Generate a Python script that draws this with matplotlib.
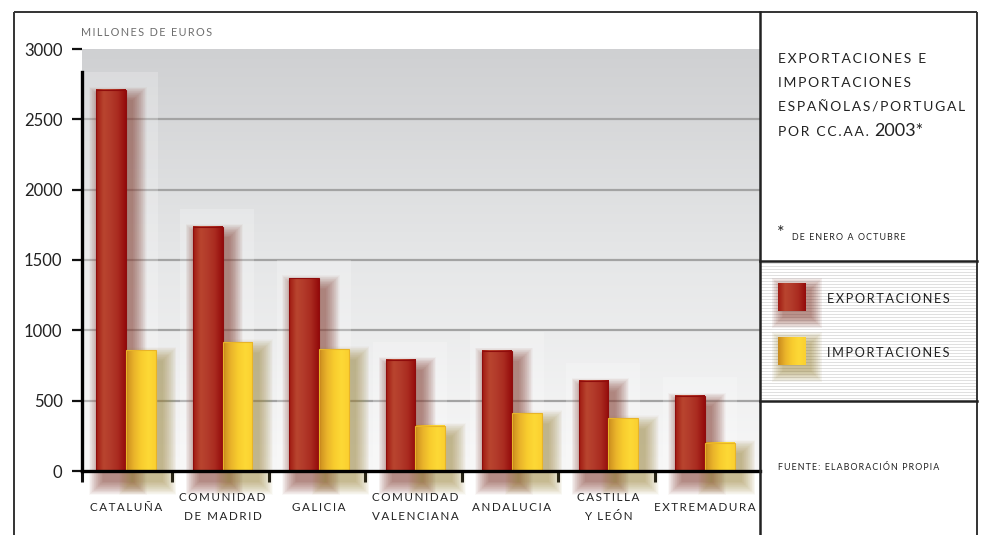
import numpy as np
import matplotlib.pyplot as plt
from matplotlib.patches import Rectangle
from matplotlib.colors import LinearSegmentedColormap

regiones = ["CATALUÑA", "COMUNIDAD\nDE MADRID", "GALICIA", "COMUNIDAD\nVALENCIANA",
            "ANDALUCIA", "CASTILLA\nY LEÓN", "EXTREMADURA"]
exportaciones = [2710, 1735, 1370, 790, 855, 640, 535]
importaciones = [860, 915, 865, 320, 410, 375, 200]
y_ticks = [0, 500, 1000, 1500, 2000, 2500, 3000]

FONT = ["Lato", "DejaVu Sans"]
INK = "#222222"
W, H = 988, 535

cmap_exp = LinearSegmentedColormap.from_list(
    "exp", ["#a01a12", "#b9452f", "#b23a2a", "#a92a1f", "#940b0b"])
cmap_imp = LinearSegmentedColormap.from_list(
    "imp", ["#c98b1e", "#e9b22a", "#f8cc2e", "#fdd936", "#fbd030"])
cmap_bg = LinearSegmentedColormap.from_list("bg", ["#f7f7f7", "#e6e7e8", "#cfd0d2"])
row = np.linspace(0, 1, 64).reshape(1, -1)


def spaced(text):
    # wide tracking, like the small caps of the original typeface
    return "\n".join("\u2009".join(line) for line in text.split("\n"))


def soft_shadow(ax, x0, w, h, color, dx, dy, rx, ry, n=22, alpha=0.03):
    for k in range(n):
        sx, sy = rx * k / n, ry * k / n
        ax.add_patch(Rectangle((x0 + dx - sx, dy - sy), w + 2 * sx, h + 2 * sy,
                               facecolor=color, edgecolor="none", alpha=alpha,
                               zorder=3, clip_on=False))


def gradient_bar(ax, x0, w, h, cmap, edge):
    ax.imshow(row, cmap=cmap, extent=[x0, x0 + w, 0, h], aspect="auto",
              zorder=5, interpolation="bicubic")
    ax.add_patch(Rectangle((x0, 0), w, h, facecolor="none", edgecolor=edge,
                           lw=0.8, zorder=6))


fig = plt.figure(figsize=(W / 100, H / 100), dpi=100)
fig.patch.set_facecolor("white")

ax = fig.add_axes([82 / W, 1 - 471 / H, (760 - 82) / W, (471 - 49) / H])
x = np.arange(len(regiones))
bw = 0.31
xlim = (-0.456, 6.57)

ax.imshow(np.linspace(0, 1, 256).reshape(-1, 1), cmap=cmap_bg, origin="lower",
          extent=[xlim[0], xlim[1], 0, 3000], aspect="auto", zorder=0)
for v in y_ticks[1:-1]:
    ax.axhline(v, color="#a3a3a3", lw=1.6, zorder=1)

# lighter glow panel behind every pair of bars
for xi, e in zip(x, exportaciones):
    ax.add_patch(Rectangle((xi - bw - 0.13, 0), 2 * bw + 0.15, e + 130,
                           facecolor="white", edgecolor="none", alpha=0.22, zorder=2))

for xi, e, m in zip(x, exportaciones, importaciones):
    soft_shadow(ax, xi - bw, bw, e, "#7a2a1c", 0.07, -75, 0.15, 100)
    soft_shadow(ax, xi, bw, m, "#9c8435", 0.07, -75, 0.15, 100)

for xi, e, m in zip(x, exportaciones, importaciones):
    gradient_bar(ax, xi - bw, bw, e, cmap_exp, "#8f0c0c")
    gradient_bar(ax, xi, bw, m, cmap_imp, "#e8b428")

ax.set_xlim(*xlim)
ax.set_ylim(0, 3000)

for side in ("top", "right"):
    ax.spines[side].set_visible(False)
ax.spines["left"].set_linewidth(2.4)
ax.spines["left"].set_bounds(0, 2840)
ax.spines["bottom"].set_linewidth(2.4)
ax.spines["left"].set_zorder(8)
ax.spines["bottom"].set_zorder(8)

ax.set_yticks(y_ticks)
ax.set_yticklabels([str(v) for v in y_ticks], family=FONT, fontsize=12, color=INK)
ax.tick_params(axis="y", direction="out", length=7.5, width=1.6, pad=6.5, color="#111")

bounds = [xlim[0]] + [xi + 0.48 for xi in x[:-1]]
ax.set_xticks(bounds)
ax.set_xticklabels([])
ax.tick_params(axis="x", direction="out", length=8, width=2.2, color="#111")

for xi, name in zip(x, regiones):
    ax.text(xi, -256, spaced(name), ha="center", va="center", family=FONT,
            fontsize=8.4, color=INK, linespacing=1.85, clip_on=False)

# frame, side panel and texts in pixel coordinates
deco = fig.add_axes([0, 0, 1, 1], zorder=10)
deco.axis("off")
deco.patch.set_visible(False)

for yy in np.arange(263, 400, 3):
    deco.plot([761, 976], [yy, yy], color="#e0e0e0", lw=0.7, zorder=1)

frame = dict(color="#333333", lw=1.4, solid_capstyle="butt", zorder=3)
deco.plot([14, 977], [12, 12], **frame)
deco.plot([14, 14], [12, H], **frame)
deco.plot([977, 977], [12, H], **frame)
deco.plot([760, 760], [12, H], color="#222222", lw=1.8, zorder=3)
deco.plot([760, 977], [261, 261], color="#222222", lw=1.8, zorder=3)
deco.plot([760, 977], [401, 401], color="#222222", lw=1.8, zorder=3)

deco.text(81, 33, spaced("MILLONES DE EUROS"), family=FONT, fontsize=7.8,
          color="#6e6e6e", va="center", ha="left")

title = ["EXPORTACIONES E", "IMPORTACIONES", "ESPAÑOLAS/PORTUGAL", "POR CC.AA."]
for i, line in enumerate(title):
    deco.text(778, 63 + 24.3 * i, spaced(line), family=FONT, fontsize=10.0,
              color=INK, va="baseline", ha="left")
deco.text(874, 136, "2003*", family=FONT, fontsize=13, color=INK,
          va="baseline", ha="left")

deco.text(777, 238, "*", family=FONT, fontsize=13, color=INK, va="baseline")
deco.text(792, 240, spaced("DE ENERO A OCTUBRE"), family=FONT, fontsize=6.4,
          color=INK, va="baseline", ha="left")

# legend keys
keys = [("EXPORTACIONES", 283, cmap_exp, "#7a2a1c"),
        ("IMPORTACIONES", 337, cmap_imp, "#9c8435")]
for label, top, cm, sh in keys:
    for k in range(18):
        s = 12 * k / 18
        deco.add_patch(Rectangle((783 - s, top + 6 - s), 28 + 2 * s, 28 + 2 * s,
                                 facecolor=sh, edgecolor="none", alpha=0.035, zorder=4))
    deco.imshow(row, cmap=cm, extent=[778, 806, top + 28, top], aspect="auto",
                zorder=5, interpolation="bicubic")
    deco.text(827, top + 20, spaced(label), family=FONT, fontsize=9.2, color=INK,
              va="baseline", ha="left", zorder=6)
deco.set_xlim(0, W)
deco.set_ylim(H, 0)

deco.text(778, 467, spaced("FUENTE: ELABORACIÓN PROPIA"), family=FONT, fontsize=6.4,
          color=INK, va="center", ha="left")

fig.savefig("out.png", dpi=100, facecolor="white")
